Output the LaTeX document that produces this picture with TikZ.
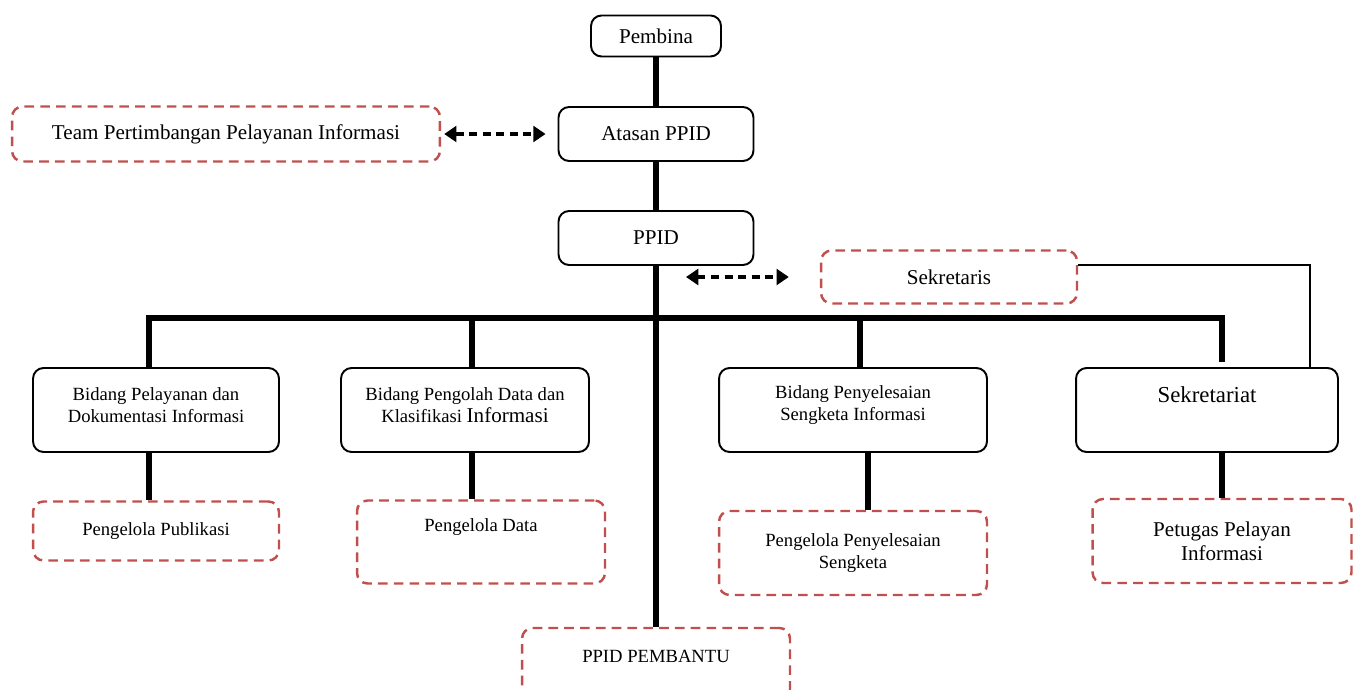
\documentclass[tikz,border=0pt]{standalone}
\usepackage{fontspec}
\setmainfont{Liberation Serif}
\usetikzlibrary{arrows.meta}
\definecolor{dashred}{RGB}{192,80,77}

\begin{document}
\begin{tikzpicture}[x=0.02cm, y=-0.02cm,
  box/.style={draw, line width=1.1pt, rounded corners=6pt, fill=white, inner sep=2pt, align=center, font=\fontsize{12}{14}\selectfont},
  redbox/.style={draw=dashred, line width=1.4pt, dash pattern=on 5.5pt off 3.5pt, rounded corners=6pt, inner sep=2pt, align=center, font=\fontsize{12}{13.5}\selectfont},
  smalltext/.style={font=\fontsize{10.6}{12.5}\selectfont},
  trunk/.style={line width=3pt},
  twoway/.style={line width=2pt, dash pattern=on 4.5pt off 3.2pt, {Triangle[length=7pt,width=9pt]}-{Triangle[length=7pt,width=9pt]}}]
\useasboundingbox (0,0) rectangle (1354,689);
\clip (0,0) rectangle (1354,689);
\node[box, minimum width=2.6cm, minimum height=0.82cm] (pembina) at (656,36) {Pembina};
\node[box, minimum width=3.9cm, minimum height=1.08cm] (atasan) at (656,134) {Atasan PPID};
\node[box, minimum width=3.9cm, minimum height=1.08cm] (ppid) at (656,238) {PPID};
\node[redbox, minimum width=8.56cm, minimum height=1.1cm] (team) at (226,134) {Team Pertimbangan Pelayanan Informasi};
\node[redbox, minimum width=5.12cm, minimum height=1.06cm] (sekris) at (949,277) {Sekretaris};
\node[box, smalltext, minimum width=4.92cm, minimum height=1.68cm, label={[smalltext, align=center, yshift=3pt]center:Bidang Pelayanan dan\\Dokumentasi Informasi}] (bidpel) at (156,410) {};
\node[box, smalltext, minimum width=4.96cm, minimum height=1.68cm, label={[smalltext, align=center, yshift=3pt]center:Bidang Pengolah Data dan\\Klasifikasi {\fontsize{12}{12.5}\selectfont Informasi}}] (bidpeng) at (465,410) {};
\node[box, smalltext, minimum width=5.36cm, minimum height=1.68cm, label={[smalltext, align=center, yshift=3pt]center:Bidang Penyelesaian\\Sengketa Informasi}] (bidsel) at (853,410) {};
\node[box, minimum width=5.24cm, minimum height=1.68cm, label={[font=\fontsize{13}{15}\selectfont, yshift=8.5pt]center:Sekretariat}] (sekat) at (1207,410) {};
\node[redbox, smalltext, minimum width=4.92cm, minimum height=1.18cm] (pub) at (156,531) {Pengelola Publikasi};
\node[redbox, minimum width=4.96cm, minimum height=1.66cm, label={[smalltext, yshift=8.5pt]center:Pengelola Data}] (pdata) at (481,542) {};
\node[redbox, smalltext, minimum width=5.36cm, minimum height=1.68cm] (pps) at (853,553) {Pengelola Penyelesaian\\Sengketa};
\node[redbox, minimum width=5.18cm, minimum height=1.68cm] (petugas) at (1222,541) {Petugas Pelayan\\Informasi};
\node[redbox, minimum width=5.36cm, minimum height=1.68cm, label={[smalltext, yshift=8pt]center:PPID PEMBANTU}] (pemb) at (656,670) {};
\path (149,318) coordinate (d1) (472,318) coordinate (d2) (860,318) coordinate (d3) (1222,318) coordinate (d4);
\path (bidsel.south) ++(15,0) coordinate (d5);
\path (1310,265) coordinate (elbow);
\draw[trunk] (pembina) -- (atasan) -- (ppid) -- (pemb);
\draw[trunk] (d1 |- bidpel.north) -- (d1) -- (d4) -- ++(0,44);
\draw[trunk] (d2) -- (d2 |- bidpeng.north);
\draw[trunk] (d3) -- (d3 |- bidsel.north);
\draw[trunk] (bidpel.south -| d1) -- (d1 |- pub.north);
\draw[trunk] (bidpeng.south -| d2) -- (d2 |- pdata.north);
\draw[trunk] (d5) -- (d5 |- pps.north);
\draw[trunk] (sekat.south -| d4) -- (d4 |- petugas.north);
\draw[line width=0.8pt] (sekris.east |- elbow) -- (elbow) -- (elbow |- sekat.north);
\draw[twoway, shorten <=0.06cm, shorten >=0.24cm] (team.east) -- (atasan.west);
\draw[twoway, shorten <=0.6cm, shorten >=0.62cm] (ppid.south |- sekris.west) -- (sekris.west);
\end{tikzpicture}
\end{document}
